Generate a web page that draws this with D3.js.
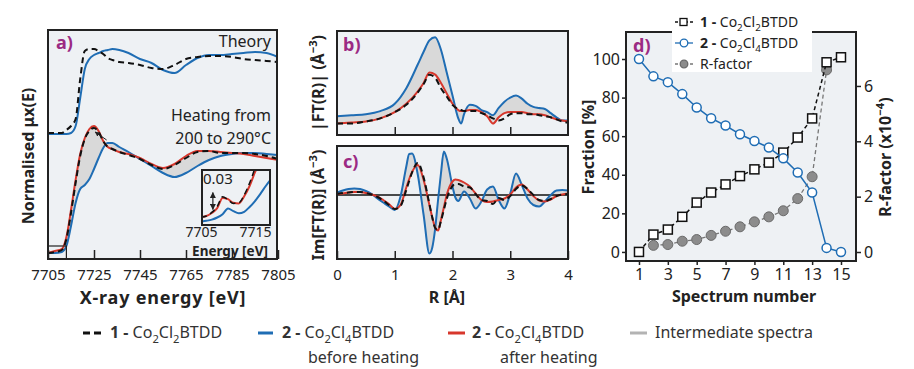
<!DOCTYPE html>
<html>
<head>
<meta charset="utf-8">
<script src="https://cdn.jsdelivr.net/npm/d3@7"></script>
<style>
  body { margin: 0; background: #fff; }
  svg { display: block; }
</style>
</head>
<body>
<svg id="chart" width="914" height="369"></svg>
<script>
// ---------- a) XANES ----------
const energy = [7705, 7708, 7711, 7713, 7715, 7717, 7719, 7721, 7723, 7725, 7727, 7729, 7731, 7733, 7736,
  7740, 7745, 7750, 7755, 7760, 7765, 7770, 7775, 7780, 7785, 7790, 7795, 7800, 7805];
const xanesCo2Cl2 = [0.00, 0.01, 0.03, 0.14, 0.40, 0.70, 0.97, 1.14, 1.22, 1.25, 1.21, 1.12, 1.06, 1.04, 1.01,
  0.98, 0.94, 0.88, 0.84, 0.88, 0.95, 1.01, 1.02, 1.00, 1.00, 1.00, 0.99, 0.97, 0.94];
const xanesBefore = [0.00, 0.00, 0.01, 0.07, 0.27, 0.50, 0.64, 0.68, 0.74, 0.84, 0.95, 1.05, 1.10, 1.10, 1.06,
  1.01, 0.94, 0.87, 0.80, 0.76, 0.80, 0.87, 0.93, 0.97, 0.99, 1.00, 1.00, 0.99, 0.98];
const xanesAfter = [0.00, 0.02, 0.04, 0.16, 0.43, 0.73, 0.99, 1.15, 1.24, 1.27, 1.22, 1.12, 1.06, 1.04, 1.01,
  0.99, 0.95, 0.89, 0.85, 0.89, 0.97, 1.02, 1.02, 1.01, 1.00, 0.99, 0.97, 0.95, 0.93];
const theoryCo2Cl2 = [1.20, 1.20, 1.20, 1.23, 1.27, 1.34, 1.74, 2.02, 2.04, 2.04, 2.02, 1.99, 1.95, 1.93, 1.91,
  1.90, 1.88, 1.85, 1.84, 1.88, 1.94, 1.96, 1.97, 1.97, 1.96, 1.94, 1.93, 1.92, 1.91];
const theoryCo2Cl4 = [1.19, 1.19, 1.19, 1.19, 1.20, 1.27, 1.55, 1.84, 1.94, 1.98, 2.00, 2.02, 2.03, 2.04, 2.03,
  2.00, 1.94, 1.90, 1.83, 1.80, 1.88, 1.95, 1.98, 1.98, 1.99, 2.00, 2.01, 2.00, 1.96];
const energyTicks = [7705, 7725, 7745, 7765, 7785, 7805];

// inset: pre-edge
const insetEnergy = [7705, 7706, 7707, 7708, 7709, 7710, 7711, 7712, 7713, 7714, 7715, 7716, 7717, 7718];
const insetCo2Cl2 = [0.013, 0.015, 0.021, 0.031, 0.047, 0.042, 0.036, 0.037, 0.050, 0.070, 0.095, 0.120, 0.140, 0.160];
const insetBefore = [0.0055, 0.007, 0.009, 0.0125, 0.018, 0.0275, 0.023, 0.0195, 0.022, 0.030, 0.040, 0.052, 0.065, 0.077];
const insetAfter = [0.013, 0.015, 0.020, 0.028, 0.045, 0.043, 0.037, 0.036, 0.048, 0.065, 0.088, 0.108, 0.130, 0.150];
const insetTicks = [7705, 7715];

// ---------- b) |FT(R)| ----------
const rMag = [0, 0.25, 0.5, 0.75, 1.0, 1.2, 1.4, 1.5, 1.6, 1.7, 1.8, 1.9, 2.0, 2.1, 2.15, 2.2, 2.3, 2.4, 2.5,
  2.6, 2.7, 2.8, 2.9, 3.0, 3.1, 3.2, 3.3, 3.4, 3.5, 3.6, 3.7, 3.8, 3.9, 4.0];
const ftMagBefore = [0.18, 0.19, 0.20, 0.23, 0.30, 0.45, 0.68, 0.80, 0.91, 0.94, 0.82, 0.60, 0.38, 0.16, 0.11,
  0.20, 0.29, 0.28, 0.24, 0.22, 0.19, 0.26, 0.32, 0.36, 0.38, 0.35, 0.30, 0.27, 0.26, 0.25, 0.21, 0.17, 0.14, 0.14];
const ftMagAfter = [0.11, 0.12, 0.13, 0.16, 0.22, 0.30, 0.42, 0.50, 0.60, 0.58, 0.50, 0.40, 0.30, 0.24, 0.23,
  0.23, 0.24, 0.24, 0.22, 0.18, 0.11, 0.17, 0.21, 0.22, 0.22, 0.22, 0.21, 0.20, 0.20, 0.19, 0.17, 0.15, 0.14, 0.13];
const ftMagCo2Cl2 = [0.11, 0.11, 0.13, 0.16, 0.22, 0.29, 0.41, 0.49, 0.58, 0.55, 0.45, 0.37, 0.29, 0.25, 0.24,
  0.23, 0.23, 0.23, 0.21, 0.19, 0.16, 0.14, 0.16, 0.20, 0.21, 0.21, 0.20, 0.20, 0.19, 0.18, 0.17, 0.15, 0.13, 0.12];

// ---------- c) Im[FT(R)] ----------
const rIm = [0, 0.1, 0.2, 0.3, 0.4, 0.5, 0.6, 0.7, 0.8, 0.9, 1.0, 1.1, 1.2, 1.25, 1.3, 1.4, 1.5, 1.6, 1.65,
  1.7, 1.75, 1.8, 1.85, 1.9, 2.0, 2.05, 2.1, 2.2, 2.3, 2.4, 2.5, 2.6, 2.7, 2.8, 2.9, 3.0, 3.1, 3.2, 3.3, 3.4,
  3.5, 3.6, 3.7, 3.8, 3.9, 4.0];
const ftImBefore = [0.05, 0.09, 0.12, 0.13, 0.12, 0.08, 0.02, -0.07, -0.15, -0.23, -0.30, -0.03, 0.57, 0.82,
  0.83, 0.40, -0.40, -1.17, -1.05, -0.67, -0.10, 0.43, 0.87, 0.73, 0.17, -0.05, -0.12, 0.07, -0.07, -0.27,
  -0.13, 0.11, 0.17, -0.10, -0.27, 0.03, 0.43, 0.20, -0.07, -0.20, -0.23, -0.13, 0.00, 0.09, 0.10, 0.09];
const ftImAfter = [0.02, 0.03, 0.05, 0.06, 0.06, 0.04, 0.01, -0.03, -0.10, -0.18, -0.28, -0.20, 0.15, 0.32,
  0.46, 0.60, 0.30, -0.20, -0.45, -0.65, -0.71, -0.50, -0.25, 0.00, 0.27, 0.31, 0.30, 0.25, 0.17, 0.03,
  -0.10, -0.14, -0.13, -0.10, -0.07, 0.01, 0.15, 0.21, 0.11, -0.02, -0.11, -0.13, -0.09, -0.02, 0.01, 0.03];
const ftImCo2Cl2 = [0.02, 0.04, 0.05, 0.06, 0.06, 0.04, 0.01, -0.04, -0.11, -0.20, -0.28, -0.22, 0.10, 0.28,
  0.45, 0.64, 0.35, -0.18, -0.45, -0.66, -0.70, -0.52, -0.30, -0.08, 0.18, 0.22, 0.22, 0.17, 0.15, 0.02,
  -0.10, -0.12, -0.18, -0.06, -0.10, -0.02, 0.12, 0.19, 0.12, 0.00, -0.10, -0.12, -0.08, -0.02, 0.01, 0.02];
const rTicks = [0, 1, 2, 3, 4];

// ---------- d) linear combination fit ----------
const spectrum = [1, 2, 3, 4, 5, 6, 7, 8, 9, 10, 11, 12, 13, 14, 15];
const fractionCo2Cl2 = [0, 9, 11.6, 18.2, 25.6, 30.8, 35.0, 39.3, 42.8, 46.3, 51.5, 59.3, 69.2, 98.3, 100.9];
const fractionCo2Cl4 = [100, 91, 88, 81.8, 74.9, 69.3, 65.5, 61.0, 57.5, 54.1, 48.5, 41.2, 30.8, 2.1, 0];
const rFactorSpectrum = [2, 3, 4, 5, 6, 7, 8, 9, 10, 11, 12, 13, 14];
const rFactor = [0.24, 0.27, 0.39, 0.45, 0.60, 0.75, 0.91, 1.09, 1.27, 1.49, 1.93, 2.72, 6.58];
const spectrumTicks = [1, 3, 5, 7, 9, 11, 13, 15];
const fractionTicks = [0, 20, 40, 60, 80, 100];
const rFactorTicks = [0, 2, 4, 6];

const FONT = '"Noto Sans", "Open Sans", sans-serif';
const INK = "#222";
const BLUE = "#1f6db4";
const RED = "#d7372c";
const BAND = "#d9d9d9";
const PURPLE = "#9b2a83";
const PANEL_BG = "#eef1f4";
const intFormat = d3.format("d");

const co2cl2 = [{ t: "Co" }, { t: "2", sub: true }, { t: "Cl" }, { t: "2", sub: true }, { t: "BTDD" }];
const co2cl4 = [{ t: "Co" }, { t: "2", sub: true }, { t: "Cl" }, { t: "4", sub: true }, { t: "BTDD" }];

const svg = d3.select("#chart")
  .attr("font-family", FONT)
  .attr("fill", INK);

const defs = svg.append("defs");
defs.append("marker")
  .attr("id", "arrowHead")
  .attr("viewBox", "0 0 10 10")
  .attr("refX", 9).attr("refY", 5)
  .attr("markerWidth", 5).attr("markerHeight", 5)
  .attr("orient", "auto-start-reverse")
  .append("path")
  .attr("d", "M0,0L10,5L0,10z")
  .attr("fill", INK);

// text with sub/superscripts, parts = [{t, sub, sup, bold}]
function richText(sel, parts, fs) {
  let shift = 0;
  parts.forEach(function (p) {
    let target = p.sub ? 0.3 * fs : (p.sup ? -0.4 * fs : 0);
    let ts = sel.append("tspan").text(p.t).attr("dy", target - shift);
    if (p.sub || p.sup) ts.attr("font-size", fs * 0.7);
    if (p.bold) ts.attr("font-weight", "bold");
    shift = target;
  });
  return sel;
}

function panel(x0, y0, x1, y1, id) {
  svg.append("rect")
    .attr("x", x0).attr("y", y0)
    .attr("width", x1 - x0).attr("height", y1 - y0)
    .attr("fill", PANEL_BG);
  defs.append("clipPath").attr("id", id)
    .append("rect")
    .attr("x", x0).attr("y", y0)
    .attr("width", x1 - x0).attr("height", y1 - y0);
  return svg.append("g").attr("clip-path", "url(#" + id + ")");
}

function frame(x0, y0, x1, y1) {
  svg.append("rect")
    .attr("x", x0).attr("y", y0)
    .attr("width", x1 - x0).attr("height", y1 - y0)
    .attr("fill", "none")
    .attr("stroke", INK)
    .attr("stroke-width", 2);
}

function curve(g, xs, ys, x, y, color, dashed, width) {
  let line = d3.line()
    .x(function (d, i) { return x(xs[i]); })
    .y(function (d) { return y(d); })
    .curve(d3.curveMonotoneX);
  g.append("path")
    .datum(ys)
    .attr("d", line)
    .attr("fill", "none")
    .attr("stroke", color)
    .attr("stroke-width", width || 2)
    .attr("stroke-dasharray", dashed ? "6,4" : null);
}

// grey band of intermediate spectra, between before and after heating
function band(g, xs, ysA, ysB, x, y) {
  let area = d3.area()
    .x(function (i) { return x(xs[i]); })
    .y0(function (i) { return y(ysA[i]); })
    .y1(function (i) { return y(ysB[i]); })
    .curve(d3.curveMonotoneX);
  g.append("path")
    .datum(d3.range(xs.length))
    .attr("d", area)
    .attr("fill", BAND)
    .attr("stroke", "#c8c8c8")
    .attr("stroke-width", 0.6);
}

function styleAxis(g, fs) {
  g.select(".domain").remove();
  g.attr("font-family", FONT).attr("font-size", fs);
  g.selectAll("text").attr("fill", INK);
  g.selectAll("line").attr("stroke", INK).attr("stroke-width", 1.5);
}

function label(x, y, txt, opts) {
  opts = opts || {};
  let t = svg.append("text")
    .attr("x", x).attr("y", y)
    .attr("font-size", opts.size || 16)
    .attr("font-weight", opts.bold ? "bold" : null)
    .attr("letter-spacing", opts.spacing || null)
    .attr("text-anchor", opts.anchor || "middle")
    .attr("fill", opts.color || INK);
  if (opts.rotate) {
    t.attr("transform", "rotate(-90," + x + "," + y + ")")
      .attr("dominant-baseline", "central");
  }
  if (typeof txt === "string") t.text(txt);
  else richText(t, txt, opts.size || 16);
  return t;
}

// ======== panel a ========
function drawPanelA() {
  let x = d3.scaleLinear().domain([7705, 7805]).range([48, 278]);
  let y = d3.scaleLinear().domain([-0.06, 2.23]).range([259, 30]);
  let g = panel(48, 30, 277, 259, "clipA");

  band(g, energy, xanesBefore, xanesAfter, x, y);
  curve(g, energy, theoryCo2Cl4, x, y, BLUE);
  curve(g, energy, theoryCo2Cl2, x, y, "#111", true);
  curve(g, energy, xanesBefore, x, y, BLUE);
  curve(g, energy, xanesAfter, x, y, RED);
  curve(g, energy, xanesCo2Cl2, x, y, "#111", true);

  // arrow: heating direction
  g.append("line")
    .attr("x1", x(7730.5)).attr("y1", y(1.13))
    .attr("x2", x(7725.5)).attr("y2", y(1.21))
    .attr("stroke", INK).attr("stroke-width", 1)
    .attr("marker-end", "url(#arrowHead)");

  // region shown in the inset
  g.append("rect")
    .attr("x", x(7705)).attr("y", y(0.07))
    .attr("width", x(7713) - x(7705)).attr("height", y(-0.06) - y(0.07))
    .attr("fill", "none").attr("stroke", INK).attr("stroke-width", 1.2);

  frame(48, 30, 277, 259);

  let axis = svg.append("g")
    .attr("transform", "translate(0,259)")
    .call(d3.axisBottom(x).tickValues(energyTicks).tickFormat(intFormat)
      .tickSizeInner(-9).tickSizeOuter(0).tickPadding(10));
  styleAxis(axis, 15);

  drawInset();

  label(56, 49, "a)", { size: 18, bold: true, anchor: "start", color: PURPLE });
  label(271, 47, "Theory", { anchor: "end" });
  label(271, 121, "Heating from", { anchor: "end" });
  label(271, 144, "200 to 290°C", { anchor: "end" });
  label(163, 304, "X-ray energy [eV]", { bold: true, size: 18, spacing: 0.8 });
  label(28, 156, "Normalised μx(E)", { bold: true, rotate: true });
}

function drawInset() {
  let x = d3.scaleLinear().domain([7705, 7715]).range([201, 255]);
  let y = d3.scaleLinear().domain([0, 0.0917]).range([225, 170]);
  let g = panel(202, 170, 270, 225, "clipInset");

  curve(g, insetEnergy, insetBefore, x, y, BLUE);
  curve(g, insetEnergy, insetAfter, x, y, RED);
  curve(g, insetEnergy, insetCo2Cl2, x, y, "#111", true, 1.5);

  g.append("line")
    .attr("x1", x(7707.2)).attr("y1", y(0.026))
    .attr("x2", x(7707.2)).attr("y2", y(0.054))
    .attr("stroke", INK).attr("stroke-width", 1.2)
    .attr("marker-start", "url(#arrowHead)")
    .attr("marker-end", "url(#arrowHead)");

  frame(202, 170, 270, 225);

  let axis = svg.append("g")
    .attr("transform", "translate(0,225)")
    .call(d3.axisBottom(x).tickValues(insetTicks).tickFormat(intFormat).tickSize(0).tickPadding(2));
  styleAxis(axis, 14);

  label(203, 184, "0.03", { size: 15, anchor: "start" });
  label(230, 256, "Energy [eV]", { size: 13.5, bold: true });
}

// ======== panels b and c ========
function drawPanelB() {
  let x = d3.scaleLinear().domain([0, 4]).range([337, 568]);
  let y = d3.scaleLinear().domain([0, 1]).range([135, 31]);
  let g = panel(337, 31, 568, 135, "clipB");

  band(g, rMag, ftMagBefore, ftMagAfter, x, y);
  curve(g, rMag, ftMagBefore, x, y, BLUE);
  curve(g, rMag, ftMagAfter, x, y, RED);
  curve(g, rMag, ftMagCo2Cl2, x, y, "#111", true);

  frame(337, 31, 568, 135);

  let axis = svg.append("g")
    .attr("transform", "translate(0,135)")
    .call(d3.axisBottom(x).tickValues([1, 2, 3]).tickSizeInner(-8).tickSizeOuter(0).tickFormat(""));
  styleAxis(axis, 15);

  label(343, 51, "b)", { size: 18, bold: true, anchor: "start", color: PURPLE });
  label(318, 83, [{ t: "|FT(R)| (Å" }, { t: "−3", sup: true }, { t: ")" }], { bold: true, rotate: true });
}

function drawPanelC() {
  let x = d3.scaleLinear().domain([0, 4]).range([337, 568]);
  let y = d3.scaleLinear().domain([-1.28, 0.98]).range([259, 146]);
  let g = panel(337, 146, 568, 259, "clipC");

  band(g, rIm, ftImBefore, ftImAfter, x, y);
  g.append("line")
    .attr("x1", 337).attr("x2", 568)
    .attr("y1", y(0)).attr("y2", y(0))
    .attr("stroke", "#111").attr("stroke-width", 1.3);
  curve(g, rIm, ftImBefore, x, y, BLUE);
  curve(g, rIm, ftImAfter, x, y, RED);
  curve(g, rIm, ftImCo2Cl2, x, y, "#111", true);

  frame(337, 146, 568, 259);

  let axis = svg.append("g")
    .attr("transform", "translate(0,259)")
    .call(d3.axisBottom(x).tickValues(rTicks).tickFormat(intFormat)
      .tickSizeInner(-8).tickSizeOuter(0).tickPadding(10));
  styleAxis(axis, 15);

  label(343, 168, "c)", { size: 18, bold: true, anchor: "start", color: PURPLE });
  label(318, 205, [{ t: "Im[FT(R)] (Å" }, { t: "−3", sup: true }, { t: ")" }], { bold: true, rotate: true });
  label(447, 303, "R [Å]", { bold: true });
}

// ======== panel d ========
function drawPanelD() {
  let x = d3.scaleLinear().domain([0.1, 16.04]).range([626, 856]);
  let yL = d3.scaleLinear().domain([-4.7, 114]).range([261, 32]);
  let yR = d3.scaleLinear().domain([-0.325, 7.95]).range([261, 32]);
  let g = panel(626, 32, 856, 261, "clipD");

  let lineL = d3.line()
    .x(function (d, i) { return x(spectrum[i]); })
    .y(function (d) { return yL(d); });
  let lineR = d3.line()
    .x(function (d, i) { return x(rFactorSpectrum[i]); })
    .y(function (d) { return yR(d); });

  // R-factor
  g.append("path").datum(rFactor).attr("d", lineR)
    .attr("fill", "none").attr("stroke", "#777").attr("stroke-width", 1.3).attr("stroke-dasharray", "4,3");
  g.selectAll("rPoints").data(rFactor).enter().append("circle")
    .attr("cx", function (d, i) { return x(rFactorSpectrum[i]); })
    .attr("cy", function (d) { return yR(d); })
    .attr("r", 5)
    .attr("fill", "#8c8c8c").attr("stroke", "#6a6a6a").attr("stroke-width", 1);

  // fraction of 1
  g.append("path").datum(fractionCo2Cl2).attr("d", lineL)
    .attr("fill", "none").attr("stroke", "#111").attr("stroke-width", 1.5).attr("stroke-dasharray", "4,3");
  g.selectAll("sqPoints").data(fractionCo2Cl2).enter().append("rect")
    .attr("x", function (d, i) { return x(spectrum[i]) - 4.5; })
    .attr("y", function (d) { return yL(d) - 4.5; })
    .attr("width", 9).attr("height", 9)
    .attr("fill", "#fff").attr("stroke", "#111").attr("stroke-width", 1.5);

  // fraction of 2
  g.append("path").datum(fractionCo2Cl4).attr("d", lineL)
    .attr("fill", "none").attr("stroke", BLUE).attr("stroke-width", 1.5);
  g.selectAll("ciPoints").data(fractionCo2Cl4).enter().append("circle")
    .attr("cx", function (d, i) { return x(spectrum[i]); })
    .attr("cy", function (d) { return yL(d); })
    .attr("r", 4.5)
    .attr("fill", "#fff").attr("stroke", BLUE).attr("stroke-width", 1.5);

  frame(626, 32, 856, 261);

  let left = svg.append("g").attr("transform", "translate(626,0)")
    .call(d3.axisLeft(yL).tickValues(fractionTicks).tickSizeInner(4).tickSizeOuter(0).tickPadding(2));
  styleAxis(left, 16);
  let right = svg.append("g").attr("transform", "translate(856,0)")
    .call(d3.axisRight(yR).tickValues(rFactorTicks).tickSizeInner(5).tickSizeOuter(0).tickPadding(3));
  styleAxis(right, 16);
  let bottom = svg.append("g").attr("transform", "translate(0,261)")
    .call(d3.axisBottom(x).tickValues(spectrumTicks).tickSizeInner(4).tickSizeOuter(0).tickPadding(4));
  styleAxis(bottom, 16);

  label(633, 52, "d)", { size: 18, bold: true, anchor: "start", color: PURPLE });
  label(744, 302, "Spectrum number", { bold: true });
  label(588, 147, "Fraction [%]", { bold: true, rotate: true });
  label(885, 157, [{ t: "R-factor (x10" }, { t: "−4", sup: true }, { t: ")" }], { bold: true, rotate: true });

  // legend box
  svg.append("rect")
    .attr("x", 672).attr("y", 14).attr("width", 140).attr("height", 58)
    .attr("fill", "#fff");
  let rows = [
    { y: 22, stroke: "#111", dash: "3,2", shape: "square", parts: [{ t: "1 - ", bold: true }].concat(co2cl2) },
    { y: 43, stroke: BLUE, dash: null, shape: "open", parts: [{ t: "2 - ", bold: true }].concat(co2cl4) },
    { y: 64, stroke: "#777", dash: "3,2", shape: "filled", parts: [{ t: "R-factor" }] }
  ];
  rows.forEach(function (r) {
    svg.append("line").attr("x1", 675).attr("x2", 693).attr("y1", r.y).attr("y2", r.y)
      .attr("stroke", r.stroke).attr("stroke-width", 1.3).attr("stroke-dasharray", r.dash);
    if (r.shape === "square") {
      svg.append("rect").attr("x", 680).attr("y", r.y - 3.5).attr("width", 7).attr("height", 7)
        .attr("fill", "#fff").attr("stroke", "#111").attr("stroke-width", 1.3);
    } else {
      svg.append("circle").attr("cx", 684).attr("cy", r.y).attr("r", 3.8)
        .attr("fill", r.shape === "open" ? "#fff" : "#8c8c8c")
        .attr("stroke", r.shape === "open" ? BLUE : "#6a6a6a").attr("stroke-width", 1.3);
    }
    label(700, r.y + 4.5, r.parts, { size: 14, anchor: "start" });
  });
}

// ======== bottom legend ========
function drawLegend() {
  let items = [
    { x1: 83, x2: 103, color: "#111", dash: "7,4", tx: 110, parts: [{ t: "1 - ", bold: true }].concat(co2cl2) },
    { x1: 258, x2: 273, color: BLUE, tx: 282, parts: [{ t: "2 - ", bold: true }].concat(co2cl4), sub: "before heating", sx: 308 },
    { x1: 448, x2: 465, color: RED, tx: 472, parts: [{ t: "2 - ", bold: true }].concat(co2cl4), sub: "after heating", sx: 500 },
    { x1: 630, x2: 647, color: "#b3b3b3", tx: 655, parts: [{ t: "Intermediate spectra" }] }
  ];
  items.forEach(function (d) {
    svg.append("line")
      .attr("x1", d.x1).attr("x2", d.x2).attr("y1", 333).attr("y2", 333)
      .attr("stroke", d.color).attr("stroke-width", 3)
      .attr("stroke-dasharray", d.dash || null);
    label(d.tx, 338, d.parts, { size: 16, anchor: "start", color: "#333" });
    if (d.sub) label(d.sx, 363, d.sub, { size: 16, anchor: "start", color: "#333" });
  });
}

drawPanelA();
drawPanelB();
drawPanelC();
drawPanelD();
drawLegend();
</script>
</body>
</html>
